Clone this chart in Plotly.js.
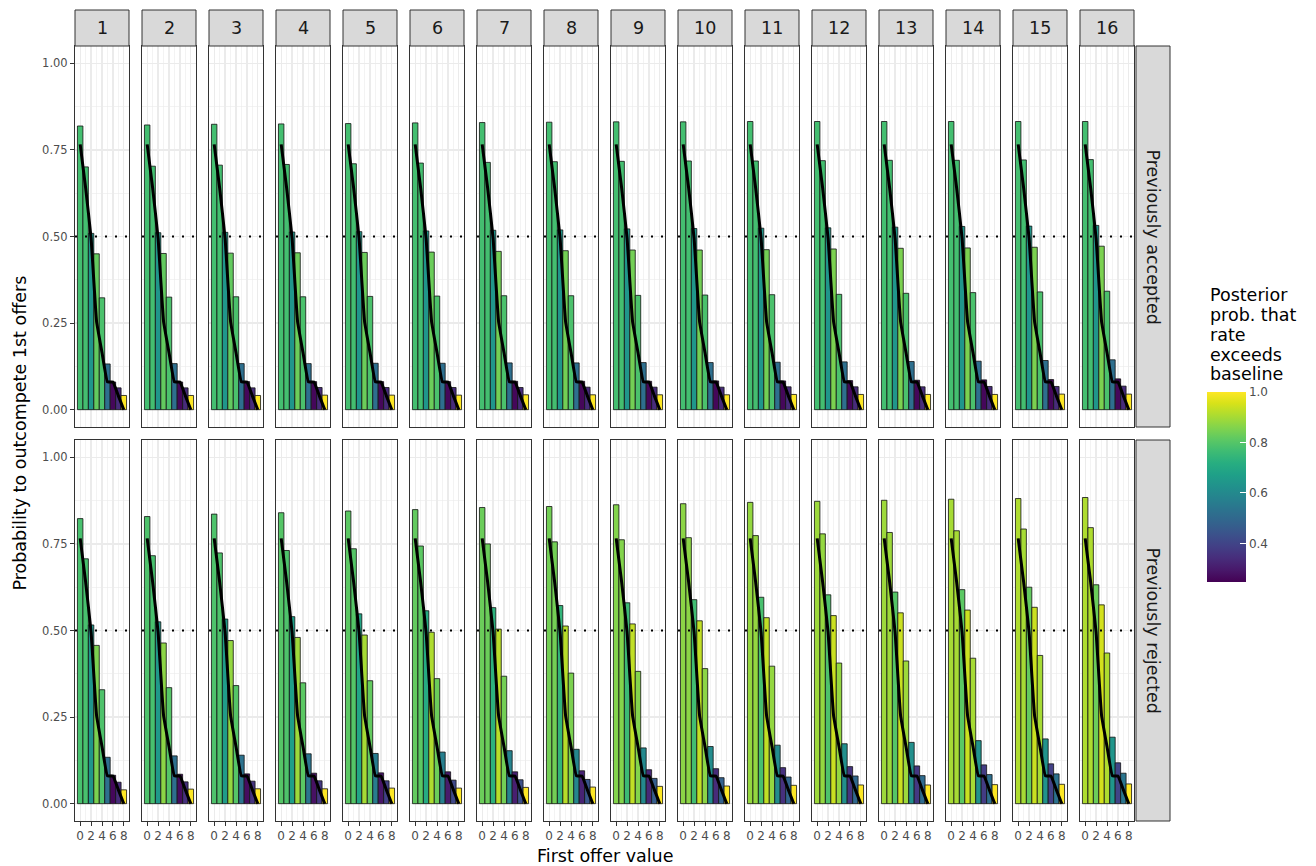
<!DOCTYPE html>
<html>
<head>
<meta charset="utf-8">
<script src="https://cdn.plot.ly/plotly-3.0.1.min.js"></script>
<style>html,body{margin:0;padding:0;background:#fff;}</style>
</head>
<body>
<div id="chart" style="width:1316px;height:866px;"></div>
<script>
// ---------------- data ----------------
const offerValues = [0, 1, 2, 3, 4, 5, 6, 7, 8];
const periods = ['1','2','3','4','5','6','7','8','9','10','11','12','13','14','15','16'];
const rowLabels = ['Previously accepted', 'Previously rejected'];
const baselineRate = [0.766, 0.64, 0.495, 0.255, 0.165, 0.08, 0.08, 0.04, 0.0];
const threshold = 0.5;

const acceptedRate = [
  [0.819,0.701,0.509,0.450,0.323,0.132,0.080,0.063,0.041],
  [0.822,0.703,0.511,0.451,0.325,0.133,0.080,0.063,0.041],
  [0.824,0.706,0.512,0.452,0.326,0.133,0.081,0.063,0.041],
  [0.825,0.708,0.513,0.453,0.326,0.133,0.081,0.064,0.042],
  [0.826,0.710,0.514,0.454,0.327,0.134,0.081,0.064,0.042],
  [0.828,0.712,0.516,0.455,0.328,0.134,0.081,0.064,0.042],
  [0.829,0.714,0.518,0.457,0.329,0.135,0.082,0.064,0.043],
  [0.830,0.716,0.519,0.459,0.329,0.135,0.082,0.065,0.043],
  [0.831,0.717,0.522,0.461,0.330,0.136,0.082,0.065,0.043],
  [0.831,0.718,0.523,0.461,0.331,0.136,0.083,0.065,0.043],
  [0.832,0.718,0.524,0.462,0.332,0.137,0.083,0.066,0.044],
  [0.832,0.719,0.525,0.464,0.333,0.138,0.084,0.066,0.044],
  [0.832,0.720,0.527,0.466,0.336,0.139,0.085,0.066,0.044],
  [0.832,0.720,0.529,0.467,0.338,0.140,0.086,0.067,0.044],
  [0.832,0.721,0.530,0.469,0.340,0.142,0.087,0.067,0.045],
  [0.832,0.722,0.532,0.472,0.342,0.144,0.089,0.068,0.045]
];
const acceptedProb = [
  [0.775,0.775,0.64,0.82,0.785,0.52,0.26,0.34,1.0],
  [0.775,0.775,0.64,0.82,0.785,0.52,0.26,0.34,1.0],
  [0.775,0.775,0.64,0.82,0.785,0.52,0.26,0.34,1.0],
  [0.775,0.775,0.64,0.83,0.785,0.52,0.26,0.34,1.0],
  [0.775,0.775,0.64,0.83,0.785,0.52,0.26,0.34,1.0],
  [0.775,0.775,0.64,0.83,0.785,0.52,0.26,0.34,1.0],
  [0.775,0.775,0.64,0.84,0.785,0.52,0.26,0.34,1.0],
  [0.775,0.775,0.64,0.84,0.785,0.52,0.26,0.34,1.0],
  [0.775,0.775,0.64,0.84,0.785,0.52,0.26,0.34,1.0],
  [0.775,0.775,0.64,0.84,0.785,0.52,0.26,0.34,1.0],
  [0.775,0.775,0.64,0.84,0.785,0.52,0.26,0.34,1.0],
  [0.775,0.775,0.64,0.85,0.785,0.52,0.26,0.34,1.0],
  [0.775,0.775,0.64,0.85,0.785,0.52,0.26,0.34,1.0],
  [0.775,0.775,0.64,0.85,0.785,0.52,0.26,0.34,1.0],
  [0.775,0.775,0.64,0.85,0.785,0.52,0.26,0.34,1.0],
  [0.775,0.775,0.64,0.85,0.785,0.52,0.26,0.34,1.0]
];
const rejectedRate = [
  [0.823,0.707,0.516,0.457,0.329,0.134,0.082,0.062,0.040],
  [0.829,0.716,0.525,0.464,0.335,0.138,0.085,0.063,0.042],
  [0.836,0.724,0.533,0.471,0.341,0.140,0.086,0.065,0.043],
  [0.840,0.731,0.540,0.480,0.349,0.144,0.088,0.066,0.043],
  [0.845,0.736,0.548,0.487,0.355,0.145,0.089,0.066,0.045],
  [0.849,0.744,0.557,0.495,0.361,0.149,0.092,0.068,0.045],
  [0.855,0.750,0.566,0.504,0.368,0.153,0.092,0.069,0.047],
  [0.858,0.756,0.572,0.513,0.377,0.157,0.095,0.070,0.048],
  [0.863,0.762,0.580,0.519,0.382,0.161,0.098,0.073,0.050],
  [0.866,0.768,0.589,0.528,0.390,0.165,0.101,0.075,0.051],
  [0.870,0.774,0.596,0.537,0.397,0.169,0.104,0.077,0.053],
  [0.873,0.779,0.603,0.543,0.406,0.173,0.107,0.080,0.054],
  [0.876,0.783,0.611,0.551,0.412,0.177,0.109,0.081,0.054],
  [0.879,0.788,0.618,0.559,0.420,0.182,0.112,0.084,0.055],
  [0.881,0.793,0.625,0.567,0.428,0.187,0.115,0.086,0.056],
  [0.884,0.797,0.632,0.574,0.435,0.192,0.118,0.088,0.057]
];
const rejectedProb = [
  [0.78,0.78,0.64,0.85,0.79,0.52,0.26,0.34,1.0],
  [0.79,0.78,0.65,0.87,0.80,0.52,0.27,0.35,1.0],
  [0.79,0.79,0.66,0.88,0.80,0.53,0.27,0.36,1.0],
  [0.80,0.79,0.67,0.89,0.81,0.54,0.28,0.37,1.0],
  [0.81,0.80,0.69,0.90,0.82,0.56,0.29,0.39,1.0],
  [0.82,0.81,0.71,0.91,0.83,0.57,0.30,0.41,1.0],
  [0.83,0.83,0.73,0.92,0.84,0.58,0.31,0.43,1.0],
  [0.84,0.84,0.74,0.92,0.85,0.59,0.32,0.45,1.0],
  [0.86,0.86,0.76,0.93,0.86,0.60,0.33,0.47,1.0],
  [0.87,0.87,0.77,0.93,0.87,0.61,0.34,0.48,1.0],
  [0.88,0.88,0.78,0.93,0.88,0.61,0.35,0.49,1.0],
  [0.89,0.88,0.79,0.94,0.88,0.62,0.36,0.50,1.0],
  [0.89,0.89,0.80,0.94,0.89,0.62,0.37,0.51,1.0],
  [0.90,0.90,0.81,0.94,0.90,0.63,0.38,0.52,1.0],
  [0.91,0.90,0.82,0.94,0.90,0.63,0.39,0.53,1.0],
  [0.91,0.91,0.83,0.95,0.91,0.64,0.40,0.54,1.0]
];
const colorTicks = [0.4, 0.6, 0.8, 1.0];
const colorTickText = ['0.4', '0.6', '0.8', '1.0'];
const colorMin = 0.247, colorMax = 1.0;
const legendTitleLines = ['Posterior', 'prob. that', 'rate', 'exceeds', 'baseline'];
const xTitle = 'First offer value';
const yTitle = 'Probability to outcompete 1st offers';

// ---------------- geometry (pixels) ----------------
const W = 1316, H = 866;
const fx = px => px / W;
const fy = py => 1 - py / H;
const panelLeft0 = 75, panelPitch = 67, panelW = 54;
const rowTop = [46, 440], rowBottom = [427, 821];
const stripTop = 10;
const rightStripL = 1136, rightStripR = 1170;
const cbLeft = 1207, cbTop = 392, cbBottom = 582, cbWidth = 39;

const rowRates = [acceptedRate, rejectedRate];
const rowProbs = [acceptedProb, rejectedProb];

const traces = [];
const layout = {
  width: W, height: H,
  margin: {l: 0, r: 0, t: 0, b: 0},
  paper_bgcolor: '#ffffff',
  plot_bgcolor: '#ffffff',
  showlegend: false,
  bargap: 0,
  font: {family: 'DejaVu Sans, sans-serif', color: '#000000'},
  shapes: [], annotations: [],
  coloraxis: {
    colorscale: 'Viridis', cmin: colorMin, cmax: colorMax,
    colorbar: {
      x: fx(cbLeft), xanchor: 'left', xref: 'paper',
      y: fy(cbBottom), yanchor: 'bottom', yref: 'paper',
      len: cbBottom - cbTop, lenmode: 'pixels',
      thickness: cbWidth, thicknessmode: 'pixels',
      xpad: 0, ypad: 0, outlinewidth: 0,
      tickmode: 'array', tickvals: colorTicks, ticktext: colorTickText,
      ticks: 'inside', ticklen: 6, tickcolor: '#ffffff', tickwidth: 1,
      tickfont: {size: 12, color: '#4d4d4d'},
      title: {text: ''}
    }
  }
};

for (let r = 0; r < 2; r++) {
  for (let c = 0; c < periods.length; c++) {
    const k = r * periods.length + c + 1;
    const xs = k === 1 ? '' : String(k);
    const left = panelLeft0 + panelPitch * c;
    traces.push({
      type: 'bar', x: offerValues, y: rowRates[r][c], width: 1,
      xaxis: 'x' + xs, yaxis: 'y' + xs,
      marker: {color: rowProbs[r][c], coloraxis: 'coloraxis',
               line: {color: '#111111', width: 0.8}},
      hoverinfo: 'skip'
    });
    traces.push({
      type: 'scatter', mode: 'lines', x: offerValues, y: baselineRate,
      xaxis: 'x' + xs, yaxis: 'y' + xs, line: {color: '#000000', width: 3, shape: 'spline', smoothing: 0.3},
      hoverinfo: 'skip'
    });
    layout['xaxis' + xs] = {
      domain: [fx(left), fx(left + panelW)], anchor: 'y' + xs,
      range: [-0.95, 8.95], fixedrange: true,
      tickmode: 'linear', tick0: 0, dtick: 2,
      showgrid: true, gridcolor: '#ebebeb', gridwidth: 1.2,
      minor: {tickmode: 'linear', tick0: 0, dtick: 1, showgrid: true, gridcolor: '#ebebeb', gridwidth: 0.6, ticks: ''},
      zeroline: false, showline: true, mirror: true, linecolor: '#333333', linewidth: 1,
      ticks: r === 1 ? 'outside' : '', ticklen: 4, tickcolor: '#333333', tickwidth: 1,
      showticklabels: r === 1,
      tickfont: {size: 12, color: '#4d4d4d'}
    };
    layout['yaxis' + xs] = {
      domain: [fy(rowBottom[r]), fy(rowTop[r])], anchor: 'x' + xs,
      range: [-0.05, 1.05], fixedrange: true,
      tickmode: 'linear', tick0: 0, dtick: 0.25, tickformat: '.2f',
      showgrid: true, gridcolor: '#ebebeb', gridwidth: 1.2,
      minor: {tickmode: 'linear', tick0: 0, dtick: 0.125, showgrid: true, gridcolor: '#ebebeb', gridwidth: 0.6, ticks: ''},
      zeroline: false, showline: true, mirror: true, linecolor: '#333333', linewidth: 1,
      ticks: c === 0 ? 'outside' : '', ticklen: 4, tickcolor: '#333333', tickwidth: 1,
      showticklabels: c === 0,
      tickfont: {size: 11.5, color: '#4d4d4d'}
    };
    layout.shapes.push({
      type: 'line', xref: 'x' + xs + ' domain', yref: 'y' + xs,
      x0: 0, x1: 1, y0: threshold, y1: threshold,
      line: {color: '#000000', width: 2, dash: '2px,8px'}, layer: 'above'
    });
    if (r === 0) {
      layout.shapes.push({
        type: 'rect', xref: 'paper', yref: 'paper',
        x0: fx(left), x1: fx(left + panelW), y0: fy(rowTop[0]), y1: fy(stripTop),
        fillcolor: '#d9d9d9', line: {color: '#333333', width: 1}, layer: 'above'
      });
      layout.annotations.push({
        xref: 'paper', yref: 'paper', x: fx(left + panelW / 2), y: fy((stripTop + rowTop[0]) / 2),
        xanchor: 'center', yanchor: 'middle', showarrow: false,
        text: periods[c], font: {size: 17.5, color: '#1a1a1a'}
      });
    }
  }
  layout.shapes.push({
    type: 'rect', xref: 'paper', yref: 'paper',
    x0: fx(rightStripL), x1: fx(rightStripR), y0: fy(rowBottom[r]), y1: fy(rowTop[r]),
    fillcolor: '#d9d9d9', line: {color: '#333333', width: 1}, layer: 'above'
  });
  layout.annotations.push({
    xref: 'paper', yref: 'paper', x: fx((rightStripL + rightStripR) / 2), y: fy((rowTop[r] + rowBottom[r]) / 2),
    xanchor: 'center', yanchor: 'middle', showarrow: false, textangle: 90,
    text: rowLabels[r], font: {size: 17.5, color: '#1a1a1a'}
  });
}

layout.annotations.push({
  xref: 'paper', yref: 'paper', x: fx((panelLeft0 + panelLeft0 + panelPitch * 15 + panelW) / 2), y: fy(856),
  xanchor: 'center', yanchor: 'middle', showarrow: false,
  text: xTitle, font: {size: 17.5, color: '#000000'}
});
layout.annotations.push({
  xref: 'paper', yref: 'paper', x: fx(20), y: fy((rowTop[0] + rowBottom[1]) / 2),
  xanchor: 'center', yanchor: 'middle', showarrow: false, textangle: -90,
  text: yTitle, font: {size: 17.5, color: '#000000'}
});
const legendLineY = [295, 315, 335, 355, 374];
legendTitleLines.forEach((t, i) => {
  layout.annotations.push({
    xref: 'paper', yref: 'paper', x: fx(1208), y: fy(legendLineY[i]),
    xanchor: 'left', yanchor: 'middle', showarrow: false,
    text: t, font: {size: 17.5, color: '#000000'}
  });
});
colorTicks.forEach(v => {
  if (v >= colorMax) return;
  const py = cbBottom - (v - colorMin) / (colorMax - colorMin) * (cbBottom - cbTop);
  layout.shapes.push({
    type: 'line', xref: 'paper', yref: 'paper',
    x0: fx(cbLeft), x1: fx(cbLeft + 6), y0: fy(py), y1: fy(py),
    line: {color: '#ffffff', width: 1}, layer: 'above'
  });
});

Plotly.newPlot('chart', traces, layout, {staticPlot: true, displayModeBar: false});
</script>
</body>
</html>
